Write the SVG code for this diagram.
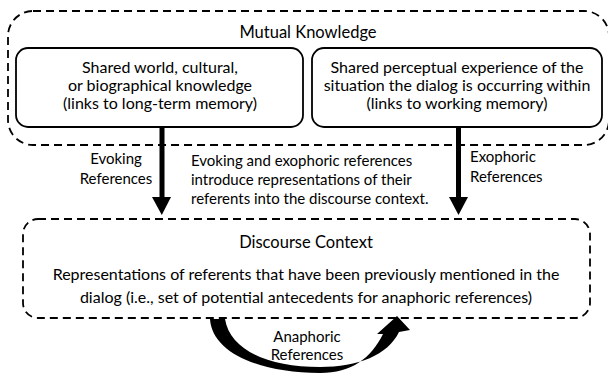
<svg xmlns="http://www.w3.org/2000/svg" width="608" height="374" viewBox="0 0 608 374">
<style>
.dash{fill:none;stroke:#000;stroke-width:1.8;stroke-dasharray:8 5}
.box{fill:#fff;stroke:#000;stroke-width:1.8}
text{font-family:Lato,"Liberation Sans",sans-serif;fill:#000}
.t{font-size:16px;text-anchor:middle}
.h{font-size:16.5px;text-anchor:middle}
.l{font-size:15px}
</style>
<rect width="608" height="374" fill="#fff"/>
<g id="mutual-knowledge">
<rect class="dash" x="8" y="11" width="601" height="134" rx="25"/>
<text class="h" x="308" y="38">Mutual Knowledge</text>
</g>
<g id="shared-world">
<rect class="box" x="16" y="48" width="287" height="79" rx="12"/>
<text class="t" x="160" y="73">Shared world, cultural,</text>
<text class="t" x="160" y="91">or biographical knowledge</text>
<text class="t" x="160" y="109">(links to long-term memory)</text>
</g>
<g id="shared-perceptual">
<rect class="box" x="312" y="48" width="290" height="79" rx="12"/>
<text class="t" x="457" y="73">Shared perceptual experience of the</text>
<text class="t" x="457" y="91">situation the dialog is occurring within</text>
<text class="t" x="457" y="109">(links to working memory)</text>
</g>
<g id="discourse-context">
<rect class="dash" x="23" y="219" width="567" height="99" rx="15"/>
<text class="h" x="306" y="248">Discourse Context</text>
<text class="t" x="306" y="280">Representations of referents that have been previously mentioned in the</text>
<text class="t" x="306" y="303">dialog (i.e., set of potential antecedents for anaphoric references)</text>
</g>
<g id="connectors">
<rect x="159.5" y="127" width="5" height="72"/>
<polygon points="152,197 171,197 161.8,215"/>
<rect x="456" y="127" width="5" height="72"/>
<polygon points="449,197 468,197 458.5,215"/>
<path d="M 210 319 C 212 352, 258 373, 320 373 C 352 373, 371 358, 383 334 L 377 334 L 397 316 L 410 330 L 399 332 C 388 355, 358 367, 320 367 C 268 367, 230 350, 225 319 Z"/>
</g>
<g id="labels">
<text class="l" x="116" y="164" text-anchor="middle">Evoking</text>
<text class="l" x="116" y="184" text-anchor="middle">References</text>
<text class="l" x="470" y="162">Exophoric</text>
<text class="l" x="470" y="182">References</text>
<text class="l" x="191" y="166">Evoking and exophoric references</text>
<text class="l" x="191" y="185">introduce representations of their</text>
<text class="l" x="191" y="204">referents into the discourse context.</text>
<text class="l" x="307" y="342" text-anchor="middle">Anaphoric</text>
<text class="l" x="307" y="360" text-anchor="middle">References</text>
</g>
</svg>
